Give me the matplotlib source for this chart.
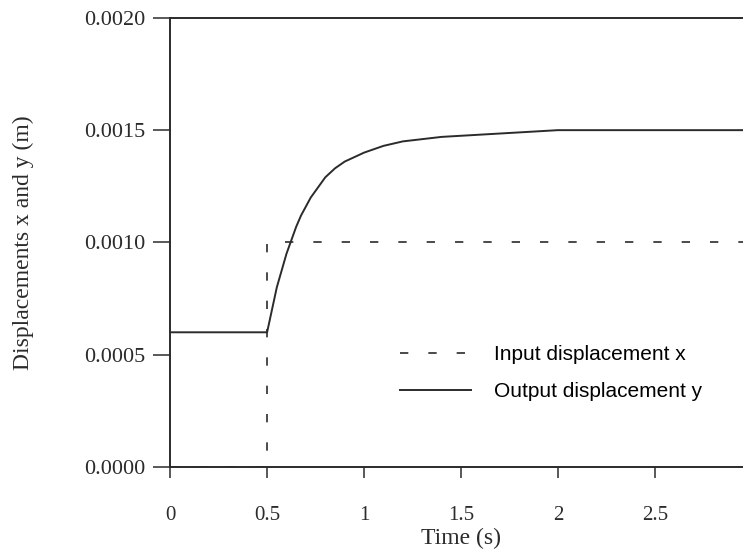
import matplotlib
matplotlib.use("Agg")
import matplotlib.pyplot as plt

# input step (dashed) and output response (solid)
t_in = [0.0, 0.5, 0.5, 3.0]
x_in = [0.0, 0.0, 0.0010, 0.0010]

t_out = [0.0, 0.5, 0.55, 0.60, 0.65, 0.675, 0.70, 0.725, 0.75, 0.775, 0.80,
         0.85, 0.90, 0.95, 1.0, 1.1, 1.2, 1.3, 1.4, 1.6, 1.8, 2.0, 2.5, 3.0]
y_out = [0.00060, 0.00060, 0.00080, 0.00095, 0.00107, 0.00112, 0.00116,
         0.00120, 0.00123, 0.00126, 0.00129, 0.00133, 0.00136, 0.00138,
         0.00140, 0.00143, 0.00145, 0.00146, 0.00147, 0.00148, 0.00149,
         0.00150, 0.00150, 0.00150]

xticks = [0, 0.5, 1, 1.5, 2, 2.5, 3]
xtick_labels = ["0", "0.5", "1", "1.5", "2", "2.5", "3"]
yticks = [0.0, 0.0005, 0.0010, 0.0015, 0.0020]
ytick_labels = ["0.0000", "0.0005", "0.0010", "0.0015", "0.0020"]

ink = "#2b2b2b"
serif = "Liberation Serif"

fig = plt.figure(figsize=(7.43, 5.58), dpi=100)
ax = fig.add_axes([0.229, 0.163, 0.783, 0.805])

ax.plot(t_in, x_in, color=ink, lw=1.2, linestyle=(0, (5, 12)),
        label="Input displacement x")
ax.plot(t_out, y_out, color=ink, lw=1.4, label="Output displacement y")

ax.set_xlim(0, 3)
ax.set_ylim(0, 0.0020)
ax.set_xticks(xticks)
ax.set_xticklabels(xtick_labels, fontfamily=serif, fontsize=15)
ax.set_yticks(yticks)
ax.set_yticklabels(ytick_labels, fontfamily=serif, fontsize=16)
ax.tick_params(axis="y", direction="out", length=12, width=1.1, colors=ink, pad=6)
ax.tick_params(axis="x", direction="out", length=8, width=1.1, colors=ink, pad=20)

for side in ["left", "bottom", "top", "right"]:
    ax.spines[side].set_color(ink)
    ax.spines[side].set_linewidth(1.4)

ax.set_xlabel("Time (s)", fontfamily=serif, fontsize=17, color=ink, labelpad=2)
ax.set_ylabel("Displacements x and y (m)", fontfamily=serif, fontsize=17,
              color=ink, labelpad=36)

ax.legend(loc="upper left", bbox_to_anchor=(0.525, 0.40),
          bbox_transform=fig.transFigure, frameon=False, handlelength=3.4,
          handletextpad=1.1, borderpad=0, labelspacing=0.85,
          prop={"family": "Liberation Sans", "size": 15})

fig.savefig("out.png", dpi=100)
